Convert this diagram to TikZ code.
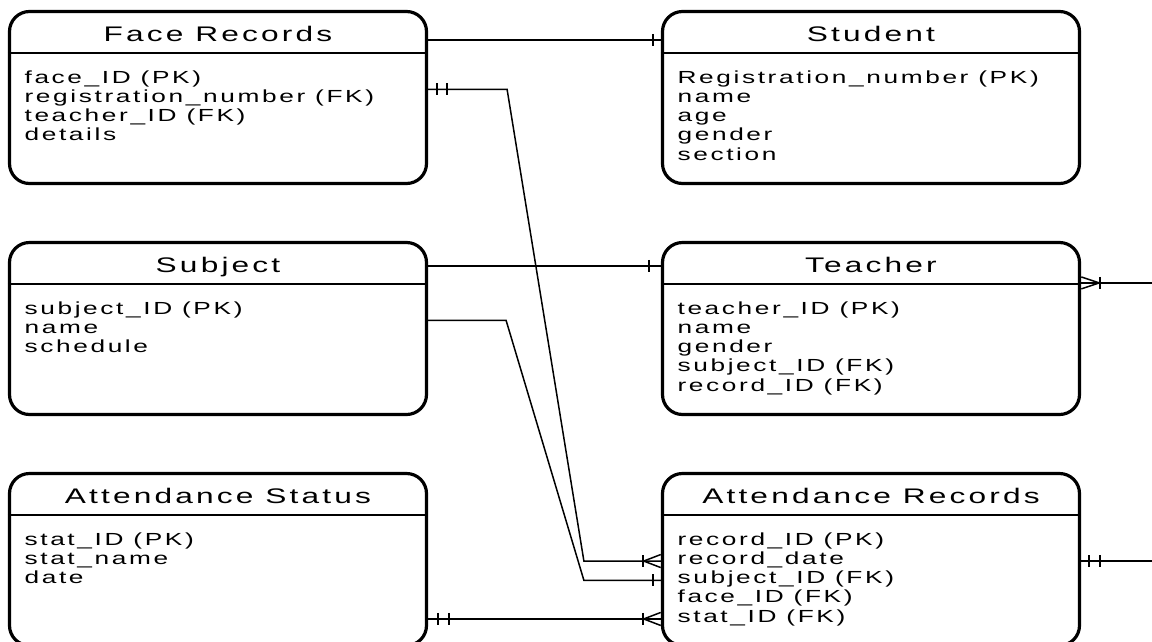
\documentclass[tikz,border=0pt]{standalone}
\usepackage{fontspec}
\newfontfamily\erfont[FakeStretch=1.5,LetterSpace=15]{Liberation Sans}
\usetikzlibrary{matrix,decorations.markings}

\begin{document}
\begin{tikzpicture}[x=1pt,y=-1pt,
            entity/.style={draw,line width=3.2pt,rounded corners=20pt,
                minimum width=417pt,minimum height=172pt,inner sep=0pt},
            etitle/.style={anchor=base,inner sep=0pt,
                font=\erfont\fontsize{21.1}{24}\selectfont},
            hline/.style={line width=2.4pt},
            fields/.style={matrix of nodes,anchor=north west,inner sep=0pt,
                row sep=0pt,
                nodes={anchor=base west,inner sep=0pt,outer sep=0pt,
                    text height=12.9pt,text depth=6.4pt,
                    font=\erfont\fontsize{17.5}{19.3}\selectfont}},
            rel/.style={line width=1.5pt},
            tick/.style={line width=1.5pt},
            bar at/.style={postaction={decorate,decoration={markings,
                mark=at position #1 with {\draw[tick] (0,-6) -- (0,6);}}}},
            crow end/.style={postaction={decorate,decoration={markings,
                mark=at position -0.2pt with {\draw[tick] (-17,0) -- (0,6.5) (-17,0) -- (0,-6.5);}}}},
            crow start/.style={postaction={decorate,decoration={markings,
                mark=at position 0.2pt with {\draw[tick] (18,0) -- (0,6) (18,0) -- (0,-6);}}}}]
            \useasboundingbox (0,0) rectangle (1152,641);
            \clip (0,0) rectangle (1152,641);

            % entities
            \node[entity] (face) at (218,97.5) {};
            \node[etitle] at ([yshift=-32]face.north) {Face Records};
            \draw[hline] ([yshift=-43]face.north west) -- ([yshift=-43]face.north east);
            \matrix (faceF) [fields] at ([xshift=16.5,yshift=-60]face.north west) {
                face\_ID (PK) \\
                registration\_number (FK) \\
                teacher\_ID (FK) \\
                details \\
            };

            \node[entity] (student) at (871,97.5) {};
            \node[etitle] at ([yshift=-32]student.north) {Student};
            \draw[hline] ([yshift=-43]student.north west) -- ([yshift=-43]student.north east);
            \matrix (studF) [fields] at ([xshift=16.5,yshift=-60]student.north west) {
                Registration\_number (PK) \\
                name \\
                age \\
                gender \\
                section \\
            };

            \node[entity] (subject) at (218,328.5) {};
            \node[etitle] at ([yshift=-32]subject.north) {Subject};
            \draw[hline] ([yshift=-43]subject.north west) -- ([yshift=-43]subject.north east);
            \matrix (subjF) [fields] at ([xshift=16.5,yshift=-60]subject.north west) {
                subject\_ID (PK) \\
                name \\
                schedule \\
            };

            \node[entity] (teacher) at (871,328.5) {};
            \node[etitle] at ([yshift=-32]teacher.north) {Teacher};
            \draw[hline] ([yshift=-43]teacher.north west) -- ([yshift=-43]teacher.north east);
            \matrix (teachF) [fields] at ([xshift=16.5,yshift=-60]teacher.north west) {
                teacher\_ID (PK) \\
                name \\
                gender \\
                subject\_ID (FK) \\
                record\_ID (FK) \\
            };

            \node[entity] (status) at (218,559.5) {};
            \node[etitle] at ([yshift=-32]status.north) {Attendance Status};
            \draw[hline] ([yshift=-43]status.north west) -- ([yshift=-43]status.north east);
            \matrix (statF) [fields] at ([xshift=16.5,yshift=-60]status.north west) {
                stat\_ID (PK) \\
                stat\_name \\
                date \\
            };

            \node[entity] (records) at (871,559.5) {};
            \node[etitle] at ([yshift=-32]records.north) {Attendance Records};
            \draw[hline] ([yshift=-43]records.north west) -- ([yshift=-43]records.north east);
            \matrix (recF) [fields] at ([xshift=16.5,yshift=-60]records.north west) {
                record\_ID (PK) \\
                record\_date \\
                subject\_ID (FK) \\
                face\_ID (FK) \\
                stat\_ID (FK) \\
            };

            % relationships
            \coordinate (edgeR) at (1160,0);
            \coordinate (fReg) at (faceF-1-1.south -| face.east);
            \coordinate (sSched) at (subjF-1-1.south -| subject.east);
            \coordinate (rDate) at (recF-2-1.west -| records.west);
            \coordinate (rSubj) at (recF-3-1.west -| records.west);
            \coordinate (rStat) at (recF-5-1.west -| records.west);
            \coordinate (tOut) at ([yshift=-42]teacher.north east);

            \draw[rel,bar at=-8pt] ([yshift=-30]face.north east) -- ([yshift=-30]student.north west);
            \draw[rel,bar at=-12pt] ([yshift=-25]subject.north east) -- ([yshift=-25]teacher.north west);
            \draw[rel,bar at=9pt,bar at=19pt,crow end,bar at=-18pt]
                (fReg) -- ++(79,0) -- ([xshift=-77]rDate) -- (rDate);
            \draw[rel,bar at=-8pt]
                (sSched) -- ++(78,0) -- ([xshift=-77]rSubj) -- (rSubj);
            \draw[rel,bar at=10pt,bar at=21pt,crow end,bar at=-18pt] (rStat -| status.east) -- (rStat);
            \draw[rel,crow start,bar at=19pt] (tOut) -- (tOut -| edgeR);
            \draw[rel,bar at=8pt,bar at=19pt] (rDate -| records.east) -- (rDate -| edgeR);

        \end{tikzpicture}
\end{document}
